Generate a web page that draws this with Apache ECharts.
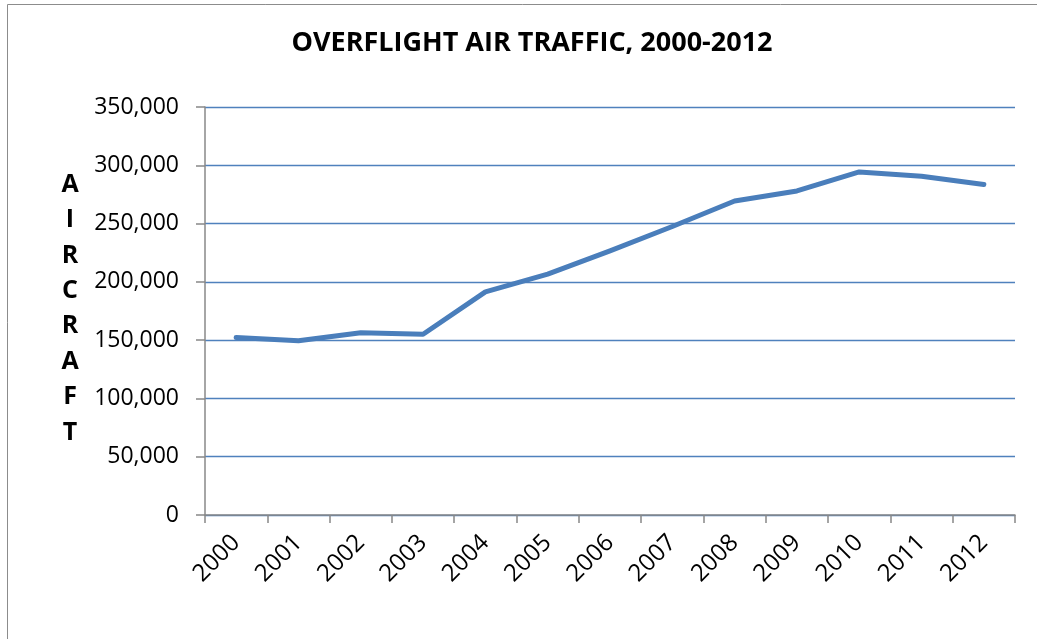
<!DOCTYPE html>
<html lang="en">
<head>
<meta charset="UTF-8">
<title>Overflight Air Traffic</title>
<script src="https://cdn.jsdelivr.net/npm/echarts@6/dist/echarts.min.js"></script>
<style>
  html, body { margin: 0; height: 100%; background: #ffffff; }
  #chart { width: 1037px; height: 639px; }
</style>
</head>
<body>
<div id="chart"></div>
<script>
var years = ['2000', '2001', '2002', '2003', '2004', '2005', '2006',
             '2007', '2008', '2009', '2010', '2011', '2012'];
var aircraft = [152300, 149400, 156300, 155100, 191400, 206600, 226500,
                247500, 269400, 278000, 294300, 290600, 283500];
var yTicks = [0, 50000, 100000, 150000, 200000, 250000, 300000, 350000];

var font = '"Open Sans", "Liberation Sans", sans-serif';
var chart = echarts.init(document.getElementById('chart'));

chart.setOption({
    animation: false,
    backgroundColor: '#ffffff',
    title: [{
        text: 'OVERFLIGHT AIR TRAFFIC, 2000-2012',
        left: 527, top: 25, textAlign: 'center',
        textStyle: { fontFamily: font, fontSize: 27, fontWeight: 'bold', color: '#000' }
    }, {
        text: 'A\nI\nR\nC\nR\nA\nF\nT',
        left: 65, top: 162, textAlign: 'center',
        textStyle: { fontFamily: font, fontSize: 25, fontWeight: 'bold', color: '#000', lineHeight: 35.4 }
    }],
    graphic: [{
        // chart area frame: only left and top edges fall inside the picture
        type: 'rect',
        shape: { x: 7.5, y: 4.5, width: 1100, height: 700 },
        style: { fill: 'none', stroke: '#8c8c8c', lineWidth: 1 }
    }],
    grid: { left: 205, right: 22, top: 107, bottom: 124 },
    xAxis: {
        type: 'category',
        data: years,
        boundaryGap: true,
        axisLine: { lineStyle: { color: '#888888', width: 1.5 } },
        axisTick: { show: true, length: 8, alignWithLabel: false, lineStyle: { color: '#888888', width: 1.5 } },
        axisLabel: { rotate: 45, margin: 24, fontFamily: font, fontSize: 24, color: '#000' }
    },
    yAxis: {
        type: 'value',
        min: 0, max: 350000, interval: 50000,
        axisLine: { show: true, lineStyle: { color: '#888888', width: 1.5 } },
        axisTick: { show: true, length: 9, lineStyle: { color: '#888888', width: 1.5 } },
        splitLine: { lineStyle: { color: '#4f81bd', width: 1.3 } },
        axisLabel: {
            margin: 26, fontFamily: font, fontSize: 23, color: '#000',
            formatter: function (v) { return yTicks.indexOf(v) >= 0 ? v.toLocaleString('en-US') : ''; }
        }
    },
    series: [{
        type: 'line',
        data: aircraft,
        showSymbol: false,
        lineStyle: { color: '#4a7ebb', width: 5, cap: 'round', join: 'round' }
    }]
});
</script>
</body>
</html>
